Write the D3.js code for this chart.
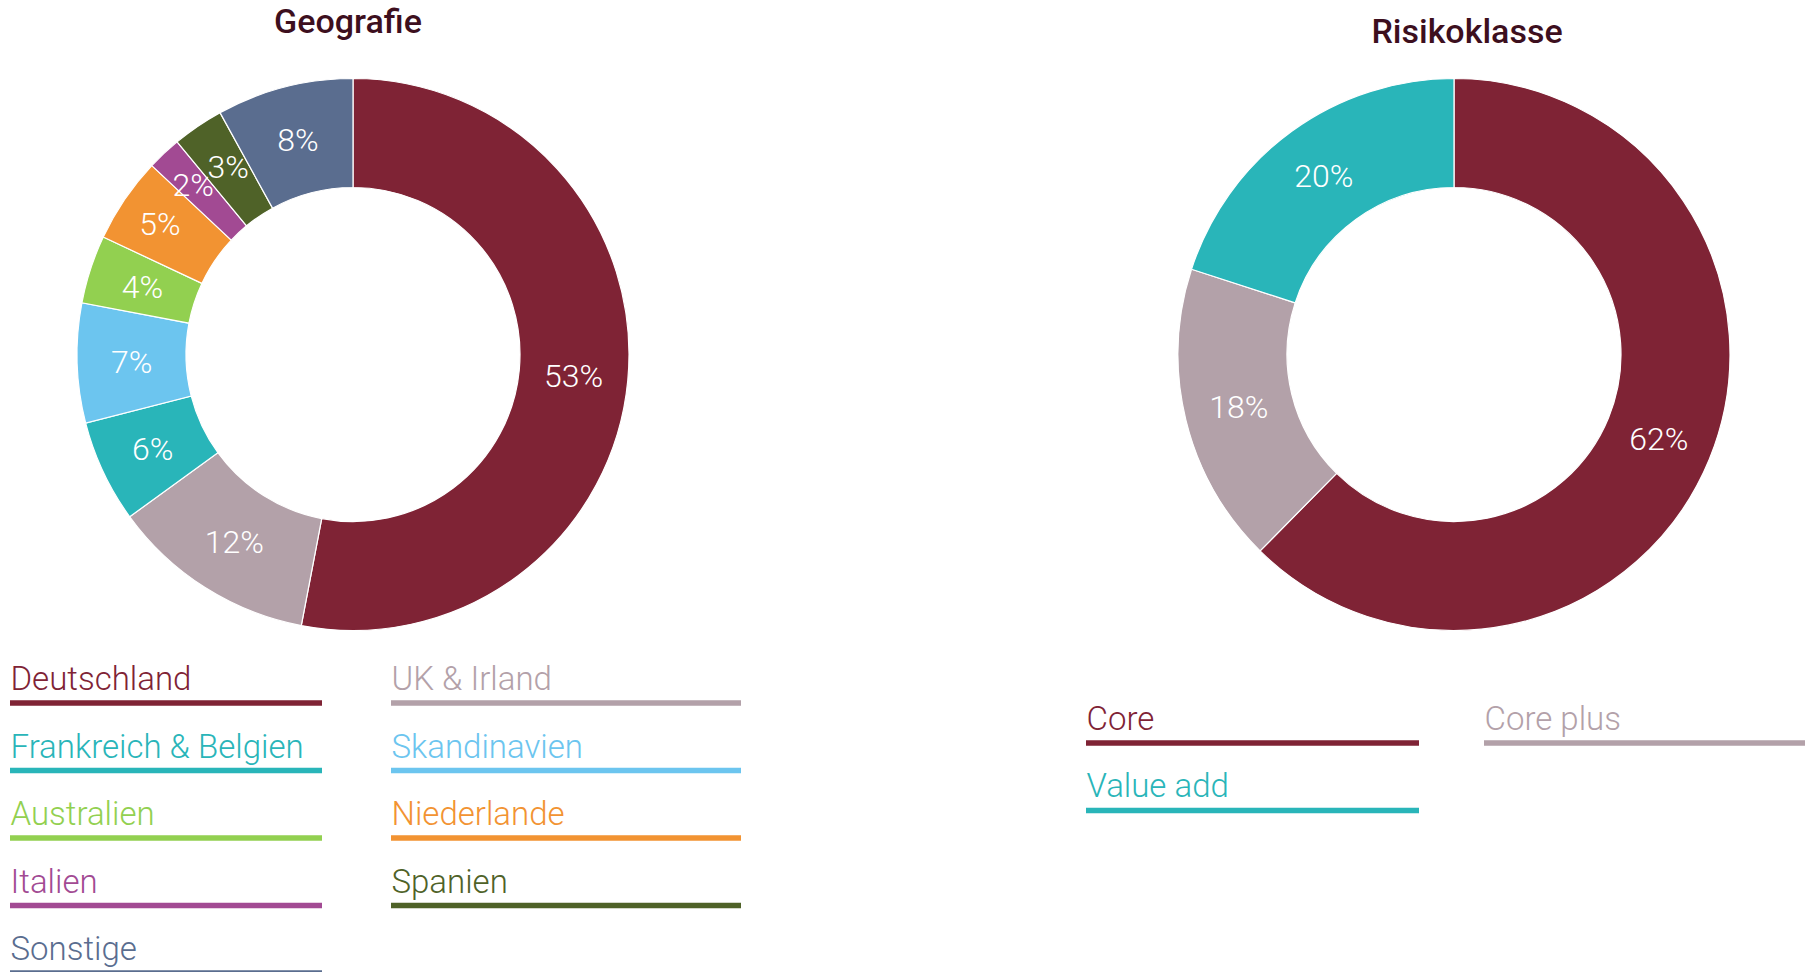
<!DOCTYPE html>
<html>
<head>
<meta charset="utf-8">
<script src="https://cdn.jsdelivr.net/npm/d3@7"></script>
<style>
  html, body { margin: 0; padding: 0; background: #ffffff; }
  svg { display: block; }
</style>
</head>
<body>
<svg id="chart" width="1805" height="972"></svg>
<script>
// ---- Data ----
const geoTitle = "Geografie";
const geoCategories = ["Deutschland", "UK & Irland", "Frankreich & Belgien", "Skandinavien", "Australien", "Niederlande", "Italien", "Spanien", "Sonstige"];
const geoValues = [53, 12, 6, 7, 4, 5, 2, 3, 8];
const geoLabels = ["53%", "12%", "6%", "7%", "4%", "5%", "2%", "3%", "8%"];
const geoColors = ["#7f2335", "#b3a1a9", "#29b5b9", "#6cc5ef", "#92d050", "#f29332", "#a24a93", "#4f6228", "#5a6d8f"];

const riskTitle = "Risikoklasse";
const riskCategories = ["Core", "Core plus", "Value add"];
const riskValues = [62.4, 17.6, 20.0];
const riskLabels = ["62%", "18%", "20%"];
const riskColors = ["#7f2335", "#b3a1a9", "#29b5b9"];

// ---- Layout (styling only) ----
const geoLabelRadialNudge = [0, 0, 0, 0, 0, 12, 12, 4, 0];
const geoLabelAngleNudge = [0, 0, 0, 0, 0, 0, 0, 0.6, 0];
const riskLabelRadialNudge = [0, 0, 0];
const riskLabelAngleNudge = [0, 0, 0];

const svg = d3.select("#chart");
const outerR = 276, innerR = 167;

const charts = [
  { title: geoTitle, cats: geoCategories, vals: geoValues, labels: geoLabels, colors: geoColors,
    rNudge: geoLabelRadialNudge, aNudge: geoLabelAngleNudge,
    cx: 353, cy: 354.5, titleX: 348, titleY: 32.5,
    legend: { cols: [{x0: 10, x1: 322}, {x0: 391, x1: 741}], lineY0: 703, pitch: 67.5, textOffset: 13 } },
  { title: riskTitle, cats: riskCategories, vals: riskValues, labels: riskLabels, colors: riskColors,
    rNudge: riskLabelRadialNudge, aNudge: riskLabelAngleNudge,
    cx: 1454, cy: 354.5, titleX: 1467, titleY: 42.5,
    legend: { cols: [{x0: 1086, x1: 1419}, {x0: 1484, x1: 1805}], lineY0: 743, pitch: 67.5, textOffset: 13.5 } }
];

const pie = d3.pie().sort(null).value(d => d).startAngle(0).endAngle(2 * Math.PI);
const arc = d3.arc().innerRadius(innerR).outerRadius(outerR);

charts.forEach(c => {
  // Title
  svg.append("text")
    .attr("x", c.titleX).attr("y", c.titleY)
    .attr("text-anchor", "middle")
    .attr("font-family", "Roboto, 'Noto Sans', sans-serif")
    .attr("font-weight", 500)
    .attr("font-size", 34)
    .attr("fill", "#3d0f1e")
    .text(c.title);

  const g = svg.append("g").attr("transform", `translate(${c.cx},${c.cy})`);
  const arcs = pie(c.vals);
  g.selectAll("path.slice").data(arcs).enter().append("path")
    .attr("class", "slice")
    .attr("d", arc)
    .attr("fill", (d, i) => c.colors[i])
    .attr("stroke", "#ffffff")
    .attr("stroke-width", 1.2);

  g.selectAll("text.lbl").data(arcs).enter().append("text")
    .attr("class", "lbl")
    .attr("transform", (d, i) => {
      const a = (d.startAngle + d.endAngle) / 2 + c.aNudge[i] * Math.PI / 180;
      const r = (innerR + outerR) / 2 + c.rNudge[i];
      return `translate(${Math.sin(a) * r},${-Math.cos(a) * r})`;
    })
    .attr("dy", "0.36em")
    .attr("text-anchor", "middle")
    .attr("font-family", "Roboto, 'Noto Sans', sans-serif")
    .attr("font-weight", 300)
    .attr("font-size", 32)
    .attr("fill", "#ffffff")
    .text((d, i) => c.labels[i]);

  // Legend
  const L = c.legend;
  c.cats.forEach((name, i) => {
    const col = L.cols[i % 2];
    const row = Math.floor(i / 2);
    const ly = L.lineY0 + row * L.pitch;
    svg.append("rect")
      .attr("x", col.x0).attr("y", ly - 2.75)
      .attr("width", col.x1 - col.x0).attr("height", 5.5)
      .attr("fill", c.colors[i]);
    svg.append("text")
      .attr("x", col.x0 + 0.5).attr("y", ly - L.textOffset)
      .attr("font-family", "Roboto, 'Noto Sans', sans-serif")
      .attr("font-weight", 300)
      .attr("font-size", 33)
      .attr("fill", c.colors[i])
      .text(name);
  });
});
</script>
</body>
</html>
